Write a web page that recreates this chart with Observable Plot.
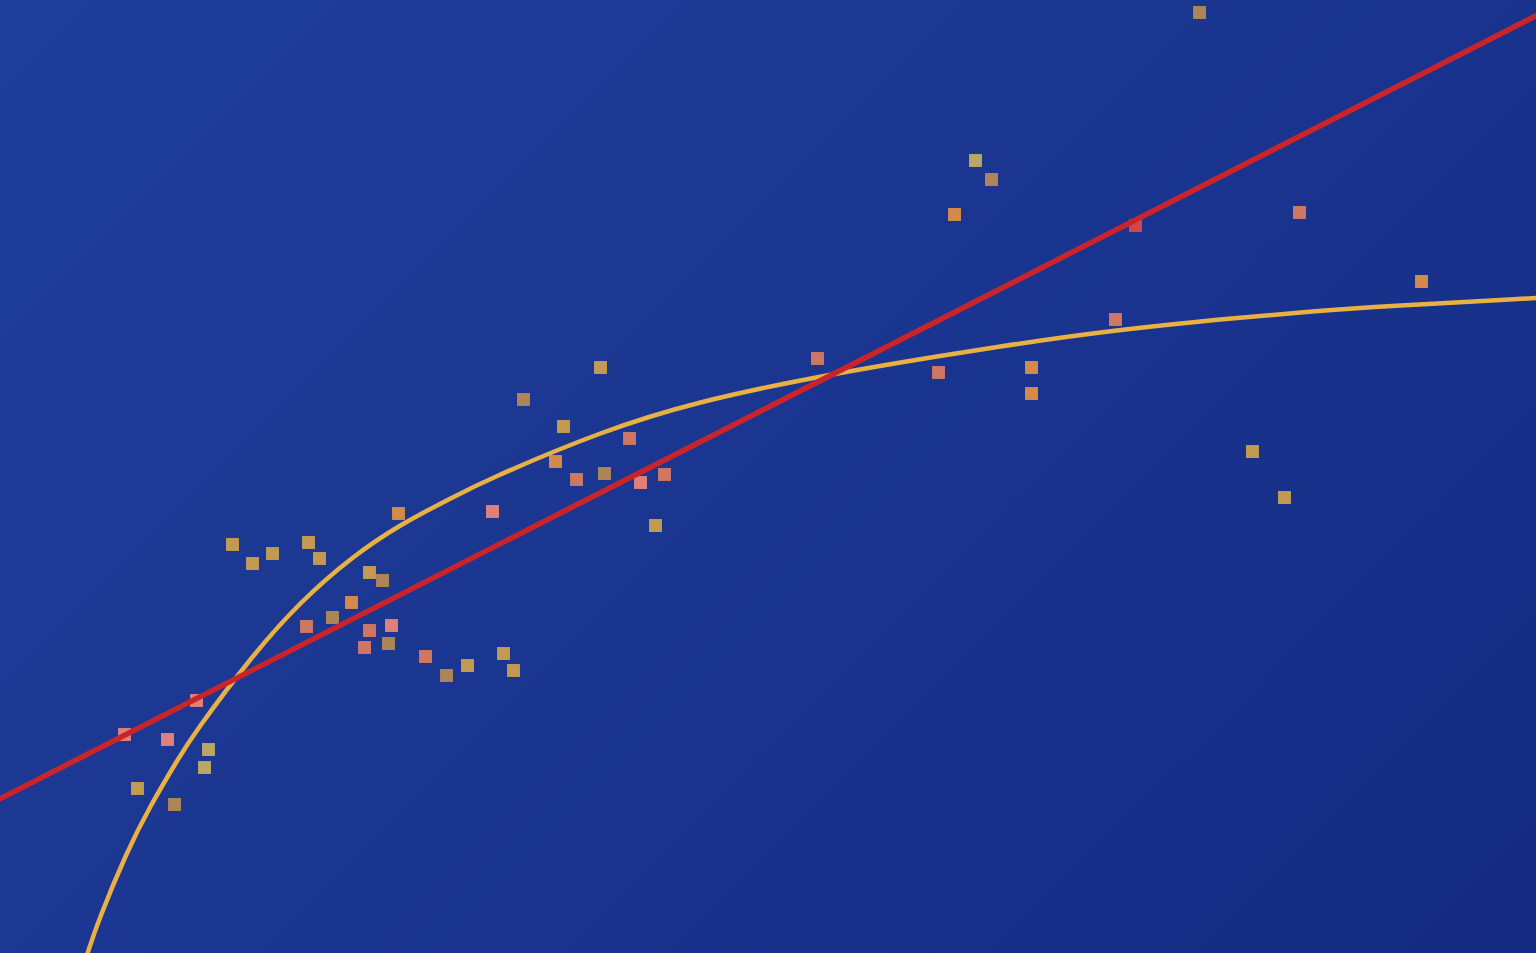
<!DOCTYPE html>
<html>
<head>
<meta charset="utf-8">
<script src="https://cdn.jsdelivr.net/npm/d3@7"></script>
<script src="https://cdn.jsdelivr.net/npm/@observablehq/plot@0.6"></script>
<style>
  html, body { margin: 0; padding: 0; background: #1a3590; overflow: hidden; }
  #chart svg { display: block; }
</style>
</head>
<body>
<div id="chart"></div>
<script>
// Scatter points (x, y) and their colour group
const pointX = [1199, 975, 991, 954, 1299, 1135, 1421, 1115, 817, 938, 1031, 1031, 1252, 1284,
  600, 523, 563, 629, 555, 576, 604, 640, 664, 655, 492, 398,
  232, 252, 272, 308, 319, 369, 382, 351, 332, 306, 369, 391, 364, 388,
  425, 446, 467, 503, 513, 196, 124, 167, 208, 204, 137, 174];
const pointY = [941, 793, 774, 739, 741, 728, 672, 634, 595, 581, 586, 560, 502, 456,
  586, 554, 527, 515, 492, 474, 480, 471, 479, 428, 442, 440,
  409, 390, 400, 411, 395, 381, 373, 351, 336, 327, 323, 328, 306, 310,
  297, 278, 288, 300, 283, 253, 219, 214, 204, 186, 165, 149];
const pointGroup = ["G3", "G2", "G3", "G4", "G5", "G7", "G4", "G5", "G5", "G5", "G4", "G4", "G1", "G1",
  "G1", "G3", "G1", "G5", "G4", "G5", "G3", "G6", "G5", "G1", "G6", "G4",
  "G1", "G1", "G1", "G1", "G1", "G1", "G3", "G4", "G3", "G5", "G5", "G6", "G5", "G3",
  "G5", "G3", "G1", "G1", "G1", "G6", "G6", "G6", "G2", "G2", "G1", "G3"];

// Straight (red) fit line
const lineX = [0, 1536];
const lineY = [155, 938];

// Curved (yellow) fit
const curveX = [78, 88, 100, 125, 150, 175, 200, 250, 300, 350, 400, 450, 500, 600, 700, 800,
  900, 1000, 1100, 1200, 1300, 1400, 1500, 1536];
const curveY = [-27, 3, 37, 97, 147, 190, 228, 294, 350, 394, 428, 455, 479, 520, 551, 573,
  591, 607, 621, 632, 641, 648, 653.5, 655.5];

const groups = ["G1", "G2", "G3", "G4", "G5", "G6", "G7"];
const groupColors = ["#c39a52", "#b9a763", "#ae8557", "#d48b4a", "#cf7763", "#e1807a", "#d8454a"];

const points = pointX.map((x, i) => ({x, y: pointY[i], g: pointGroup[i]}));
const line = lineX.map((x, i) => ({x, y: lineY[i]}));
const curve = curveX.map((x, i) => ({x, y: curveY[i]}));

const chart = Plot.plot({
  width: 1536,
  height: 953,
  margin: 0,
  x: {domain: [0, 1536], axis: null},
  y: {domain: [0, 953], axis: null},
  color: {type: "ordinal", domain: groups, range: groupColors},
  style: {background: "linear-gradient(135deg, #1f3f9a 0%, #1b3792 40%, #17308a 75%, #142a80 100%)", overflow: "hidden"},
  marks: [
    Plot.dot(points, {x: "x", y: "y", symbol: "square", r: 7.3, fill: "g", stroke: "none"}),
    Plot.line(curve, {x: "x", y: "y", curve: "natural", stroke: "#e9b043", strokeWidth: 4.5}),
    Plot.line(line, {x: "x", y: "y", stroke: "#c8242a", strokeWidth: 5.5})
  ]
});
document.getElementById("chart").appendChild(chart);
</script>
</body>
</html>
